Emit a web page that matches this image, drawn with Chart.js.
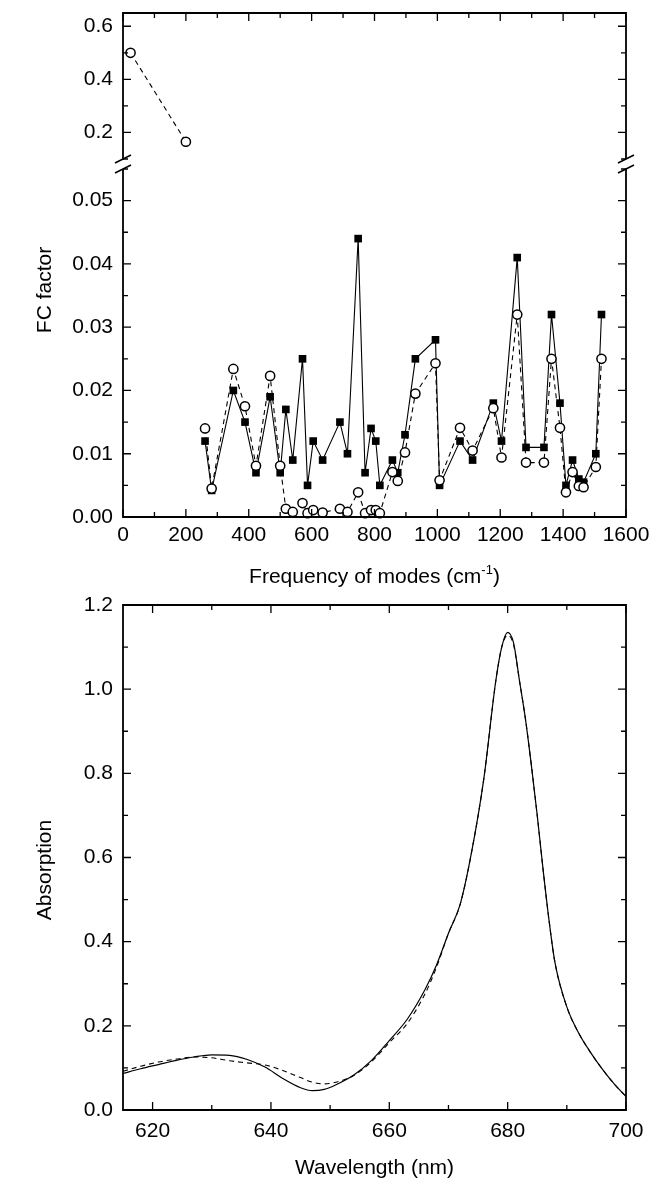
<!DOCTYPE html>
<html><head><meta charset="utf-8">
<script src="https://cdn.jsdelivr.net/npm/chart.js@4/dist/chart.umd.min.js"></script>
<style>
body{margin:0;background:#fff;}
#wrap{position:relative;width:652px;height:1181px;overflow:hidden;background:#fff;}
canvas{position:absolute;left:0;}
</style></head>
<body><div id="wrap">
<canvas id="cTop" width="652" height="170" style="top:0px"></canvas>
<canvas id="cMid" width="652" height="440" style="top:160px"></canvas>
<canvas id="cBot" width="652" height="591" style="top:590px"></canvas>
</div>
<script>
// ---------- data ----------
const topFreq = [24, 200];
const topCircles = [0.5, 0.165];

const modeFreq = [261, 282, 351, 388, 423, 468, 500, 518, 540, 571, 587, 605, 635, 690, 714, 748, 770, 789, 804, 817, 857, 874, 897, 930, 994, 1007, 1072, 1112, 1178, 1204, 1254, 1282, 1339, 1363, 1390, 1409, 1430, 1450, 1465, 1504, 1522];
const fcSquares = [0.012, 0.0042, 0.020, 0.015, 0.007, 0.019, 0.007, 0.017, 0.009, 0.025, 0.005, 0.012, 0.009, 0.015, 0.010, 0.044, 0.007, 0.014, 0.012, 0.005, 0.009, 0.007, 0.013, 0.025, 0.028, 0.005, 0.012, 0.009, 0.018, 0.012, 0.041, 0.011, 0.011, 0.032, 0.018, 0.005, 0.009, 0.006, 0.0055, 0.010, 0.032];
const fcCircles = [0.014, 0.0045, 0.0234, 0.0175, 0.0081, 0.0223, 0.0081, 0.0013, 0.0008, 0.0022, 0.0006, 0.0011, 0.0007, 0.0013, 0.0008, 0.0039, 0.0006, 0.0011, 0.0011, 0.0006, 0.0071, 0.0057, 0.0102, 0.0195, 0.0243, 0.0058, 0.0141, 0.0105, 0.0172, 0.0094, 0.032, 0.0086, 0.0086, 0.025, 0.0141, 0.0039, 0.0071, 0.0049, 0.0047, 0.0079, 0.025];

const wavelength = [615, 618, 621, 624, 627, 630, 633, 636, 639, 642, 645, 647, 649, 651, 654, 657, 660, 663, 666, 668, 670, 672, 674, 676, 678, 679, 680, 681, 682, 683, 684, 685, 686, 687, 688, 690, 692, 694, 696, 698, 700];
const absSolid  = [0.087, 0.098, 0.108, 0.118, 0.126, 0.131, 0.130, 0.120, 0.102, 0.075, 0.053, 0.046, 0.049, 0.060, 0.083, 0.118, 0.165, 0.215, 0.285, 0.345, 0.42, 0.49, 0.62, 0.79, 1.02, 1.10, 1.135, 1.11, 1.02, 0.93, 0.82, 0.70, 0.57, 0.45, 0.35, 0.245, 0.183, 0.137, 0.097, 0.062, 0.032];
const absDashed = [0.092, 0.104, 0.114, 0.121, 0.126, 0.124, 0.117, 0.112, 0.107, 0.094, 0.077, 0.066, 0.062, 0.066, 0.082, 0.115, 0.160, 0.205, 0.275, 0.34, 0.42, 0.49, 0.62, 0.79, 1.02, 1.10, 1.128, 1.105, 1.02, 0.93, 0.82, 0.70, 0.57, 0.45, 0.35, 0.245, 0.183, 0.137, 0.097, 0.062, 0.032];

// tick labels (major); minor ticks sit halfway between them
const freqMajorTicks = [0, 200, 400, 600, 800, 1000, 1200, 1400, 1600];
const fcTopMajorTicks = [0.2, 0.4, 0.6];
const fcMajorTicks = [0.00, 0.01, 0.02, 0.03, 0.04, 0.05];
const absMajorTicks = [0.0, 0.2, 0.4, 0.6, 0.8, 1.0, 1.2];
const waveMajorTicks = [620, 640, 660, 680, 700];

// ---------- helpers ----------
const FONT = "'Liberation Sans', Arial, Helvetica, sans-serif";
const TICK_SIZE = 21;

function makeTicks(major) {
  return function (scale) {
    const step = major[1] - major[0];
    const vals = [];
    const eps = step * 1e-6;
    for (let i = 0; i < major.length; i++) {
      vals.push({ value: major[i], lab: true });
      const half = major[i] + step / 2;
      if (i < major.length - 1 || half <= scale.max + eps) vals.push({ value: half, lab: false });
      if (i === 0 && major[0] - step / 2 >= scale.min - eps) vals.push({ value: major[0] - step / 2, lab: false });
    }
    scale.ticks = vals.filter(t => t.value >= scale.min - eps && t.value <= scale.max + eps)
                      .sort((a, b) => a.value - b.value);
  };
}
function labelCb(dec) {
  return function (value, index, ticks) {
    return ticks[index] && ticks[index].lab ? Number(value).toFixed(dec) : '';
  };
}
function pts(xs, ys) { return xs.map((x, i) => ({ x: x, y: ys[i] })); }

const framePlugin = {
  id: 'frame',
  afterDatasetsDraw(chart, args, o) {
    const { ctx, chartArea: a, scales } = chart;
    const xs = scales.x, ys = scales.y;
    ctx.save();
    ctx.strokeStyle = '#000';
    ctx.lineWidth = 1.8;
    ctx.beginPath();
    if (o.top) { ctx.moveTo(a.left - 0.9, a.top); ctx.lineTo(a.right + 0.9, a.top); }
    if (o.bottom) { ctx.moveTo(a.left - 0.9, a.bottom); ctx.lineTo(a.right + 0.9, a.bottom); }
    if (o.left) { ctx.moveTo(a.left, a.top); ctx.lineTo(a.left, a.bottom); }
    if (o.right) { ctx.moveTo(a.right, a.top); ctx.lineTo(a.right, a.bottom); }
    ctx.stroke();
    ctx.lineWidth = 1.3;
    ctx.beginPath();
    xs.ticks.forEach(t => {
      const x = xs.getPixelForValue(t.value);
      const len = t.lab ? 8 : 5;
      if (o.top) { ctx.moveTo(x, a.top); ctx.lineTo(x, a.top + len); }
      if (o.bottom) { ctx.moveTo(x, a.bottom); ctx.lineTo(x, a.bottom - len); }
    });
    ys.ticks.forEach(t => {
      const y = ys.getPixelForValue(t.value);
      const len = t.lab ? 8 : 5;
      if (o.left) { ctx.moveTo(a.left, y); ctx.lineTo(a.left + len, y); }
      if (o.right) { ctx.moveTo(a.right, y); ctx.lineTo(a.right - len, y); }
    });
    ctx.stroke();
    // axis-break marks
    ctx.lineWidth = 1.5;
    ctx.beginPath();
    (o.breaks || []).forEach(pos => {
      const y = pos === 'top' ? a.top : a.bottom;
      [a.left, a.right].forEach(x => { ctx.moveTo(x - 8, y + 4); ctx.lineTo(x + 8, y - 4); });
    });
    ctx.stroke();
    ctx.restore();
  }
};

const textPlugin = {
  id: 'texts',
  afterDraw(chart, args, o) {
    const ctx = chart.ctx, a = chart.chartArea;
    (o.items || []).forEach(it => {
      ctx.save();
      const x = it.x === 'center' ? (a.left + a.right) / 2 : it.x;
      const y = it.y;
      ctx.translate(x, y);
      if (it.rot) ctx.rotate(it.rot);
      ctx.fillStyle = '#000';
      ctx.textBaseline = 'middle';
      const parts = it.parts;
      let total = 0;
      parts.forEach(p => {
        ctx.font = (p.sup ? Math.round(it.size * 0.62) : it.size) + 'px ' + FONT;
        p.w = ctx.measureText(p.t).width;
        total += p.w;
      });
      let cx = -total / 2;
      ctx.textAlign = 'left';
      parts.forEach(p => {
        ctx.font = (p.sup ? Math.round(it.size * 0.62) : it.size) + 'px ' + FONT;
        ctx.fillText(p.t, cx, p.sup ? -it.size * 0.32 : 0);
        cx += p.w;
      });
      ctx.restore();
    });
  }
};

function baseOptions(cfg) {
  return {
    responsive: false,
    animation: false,
    devicePixelRatio: 1,
    layout: { padding: { top: cfg.padTop, right: 26, bottom: 0, left: 0 } },
    plugins: {
      legend: { display: false },
      tooltip: { enabled: false },
      frame: cfg.frame,
      texts: { items: cfg.texts || [] }
    },
    scales: {
      x: {
        type: 'linear',
        min: cfg.xmin, max: cfg.xmax,
        afterBuildTicks: makeTicks(cfg.xMajor),
        afterFit: s => { s.height = cfg.xHeight; s.paddingLeft = 0; s.paddingRight = 0; s.paddingTop = 0; s.paddingBottom = 0; },
        grid: { display: false, drawTicks: false },
        border: { display: false },
        ticks: {
          display: cfg.xLabels, autoSkip: false, maxRotation: 0, padding: cfg.xPad,
          color: '#000', font: { family: FONT, size: TICK_SIZE },
          callback: labelCb(0)
        }
      },
      y: {
        type: 'linear',
        min: cfg.ymin, max: cfg.ymax,
        afterBuildTicks: makeTicks(cfg.yMajor),
        afterFit: s => { s.width = 123; s.paddingTop = 0; s.paddingBottom = 0; s.paddingLeft = 0; s.paddingRight = 0; },
        grid: { display: false, drawTicks: false },
        border: { display: false },
        ticks: {
          autoSkip: false, padding: 10,
          color: '#000', font: { family: FONT, size: TICK_SIZE },
          callback: labelCb(cfg.yDec)
        }
      }
    }
  };
}

const circleStyle = {
  borderColor: '#000', borderWidth: 1.1, borderDash: [5, 4],
  pointStyle: 'circle', pointRadius: 4.6, pointBorderWidth: 1.5,
  pointBackgroundColor: '#fff', pointBorderColor: '#000', fill: false, tension: 0
};
const squareStyle = {
  borderColor: '#000', borderWidth: 1.1,
  pointStyle: 'rect', pointRadius: 5.4, pointBorderWidth: 0,
  pointBackgroundColor: '#000', pointBorderColor: '#000', fill: false, tension: 0
};

// ---------- top panel (FC factor, broken axis upper part) ----------
new Chart(document.getElementById('cTop'), {
  type: 'line',
  data: { datasets: [Object.assign({ data: pts(topFreq, topCircles), clip: false }, circleStyle)] },
  options: baseOptions({
    padTop: 13, xmin: 0, xmax: 1600, xMajor: freqMajorTicks, xHeight: 11, xLabels: false, xPad: 0,
    ymin: 0.1, ymax: 0.65, yMajor: fcTopMajorTicks, yDec: 1,
    frame: { top: true, left: true, right: true, bottom: false, breaks: ['bottom'] }
  }),
  plugins: [framePlugin, textPlugin]
});

// ---------- middle panel (FC factor vs frequency of modes) ----------
new Chart(document.getElementById('cMid'), {
  type: 'line',
  data: {
    datasets: [
      Object.assign({ data: pts(modeFreq, fcCircles), clip: false }, circleStyle),
      Object.assign({ data: pts(modeFreq, fcSquares), clip: false }, squareStyle)
    ]
  },
  options: baseOptions({
    padTop: 9, xmin: 0, xmax: 1600, xMajor: freqMajorTicks, xHeight: 83, xLabels: true, xPad: 6,
    ymin: 0, ymax: 0.055, yMajor: fcMajorTicks, yDec: 2,
    frame: { top: false, left: true, right: true, bottom: true, breaks: ['top'] },
    texts: [
      { x: 'center', y: 417, size: 21, parts: [{ t: 'Frequency of modes (cm' }, { t: '-1', sup: true }, { t: ')' }] },
      { x: 45, y: 130, size: 21, rot: -Math.PI / 2, parts: [{ t: 'FC factor' }] }
    ]
  }),
  plugins: [framePlugin, textPlugin]
});

// ---------- bottom panel (absorption spectrum) ----------
new Chart(document.getElementById('cBot'), {
  type: 'line',
  data: {
    datasets: [
      { data: pts(wavelength, absSolid), borderColor: '#000', borderWidth: 1.2, pointRadius: 0, fill: false, cubicInterpolationMode: 'monotone' },
      { data: pts(wavelength, absDashed), borderColor: '#000', borderWidth: 1.1, borderDash: [5, 4], pointRadius: 0, fill: false, cubicInterpolationMode: 'monotone' }
    ]
  },
  options: baseOptions({
    padTop: 15, xmin: 615, xmax: 700, xMajor: waveMajorTicks, xHeight: 71, xLabels: true, xPad: 9,
    ymin: 0, ymax: 1.2, yMajor: absMajorTicks, yDec: 1,
    frame: { top: true, left: true, right: true, bottom: true, breaks: [] },
    texts: [
      { x: 'center', y: 578, size: 21, parts: [{ t: 'Wavelength (nm)' }] },
      { x: 45, y: 280, size: 21, rot: -Math.PI / 2, parts: [{ t: 'Absorption' }] }
    ]
  }),
  plugins: [framePlugin, textPlugin]
});
</script>
</body></html>
